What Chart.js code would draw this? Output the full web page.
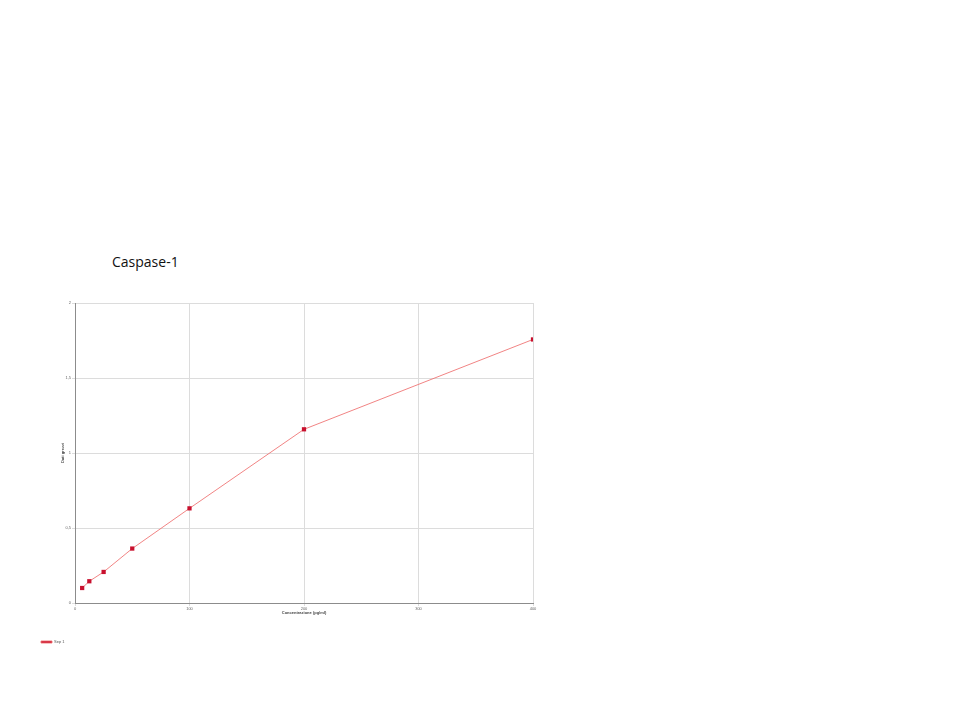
<!DOCTYPE html>
<html>
<head>
<meta charset="utf-8">
<script src="https://cdn.jsdelivr.net/npm/chart.js@4"></script>
<style>
  html, body { margin: 0; padding: 0; background: #fff; }
  #wrap { position: relative; width: 960px; height: 720px; }
  #title {
    position: absolute; left: 112px; top: 252px;
    font-family: "Open Sans", sans-serif; font-size: 14px; color: #111;
  }
  canvas { position: absolute; left: 0; top: 0; }
</style>
</head>
<body>
<div id="wrap">
  <div id="title">Caspase-1</div>
  <canvas id="chart" width="960" height="720"></canvas>
</div>
<script>
const concentrations = [6.25, 12.5, 25, 50, 100, 200, 400];
const rawValues = [0.100, 0.145, 0.207, 0.363, 0.631, 1.158, 1.757];
const seriesName = "Sep 1";
const xTicks = [0, 100, 200, 300, 400];
const yTicks = [0, 0.5, 1, 1.5, 2];
const yTickLabels = ["0", "0,5", "1", "1,5", "2"];

const points = concentrations.map((c, i) => ({ x: c, y: rawValues[i] }));

const ctx = document.getElementById("chart").getContext("2d");
new Chart(ctx, {
  type: "scatter",
  data: {
    datasets: [{
      label: seriesName,
      data: points,
      showLine: true,
      borderColor: "rgba(238, 110, 110, 0.85)",
      borderWidth: 1,
      backgroundColor: "#c8102e",
      pointBackgroundColor: "#c8102e",
      pointBorderColor: "#c8102e",
      pointStyle: "rect",
      pointRadius: 3,
      pointBorderWidth: 0,
    }]
  },
  options: {
    responsive: false,
    animation: false,
    layout: {
      padding: { left: 31, right: 427, top: 303, bottom: 66 }
    },
    plugins: {
      legend: {
        display: true,
        position: "bottom",
        align: "start",
        labels: {
          boxWidth: 11,
          boxHeight: 2,
          padding: 10,
          color: "#555",
          font: { family: "Liberation Sans", size: 4 }
        }
      },
      tooltip: { enabled: false }
    },
    scales: {
      x: {
        type: "linear",
        min: 0,
        max: 400,
        afterBuildTicks: (scale) => { scale.ticks = xTicks.map(v => ({ value: v })); },
        grid: { color: "#dcdcdc", lineWidth: 1, tickLength: 3 },
        border: { color: "#8c8c8c" },
        ticks: { color: "#666", padding: 0, maxRotation: 0, font: { family: "Liberation Sans", size: 4 } },
        title: {
          display: true,
          text: "Concentrazione (pg/ml)",
          color: "#444",
          padding: { top: 0, bottom: 15 },
          font: { family: "Liberation Sans", size: 4, weight: "bold" }
        },
        afterFit: (scale) => { scale.height = 27; }
      },
      y: {
        type: "linear",
        min: 0,
        max: 2,
        afterBuildTicks: (scale) => { scale.ticks = yTicks.map(v => ({ value: v })); },
        grid: { color: "#dcdcdc", lineWidth: 1, tickLength: 3 },
        border: { color: "#8c8c8c" },
        ticks: {
          color: "#666",
          padding: 1,
          font: { family: "Liberation Sans", size: 4 },
          callback: (v) => yTickLabels[yTicks.indexOf(v)]
        },
        title: {
          display: true,
          text: "Dati grezzi",
          color: "#444",
          padding: { top: 29, bottom: 0 },
          font: { family: "Liberation Sans", size: 4, weight: "bold" }
        },
        afterFit: (scale) => { scale.width = 44; }
      }
    }
  }
});
</script>
</body>
</html>
